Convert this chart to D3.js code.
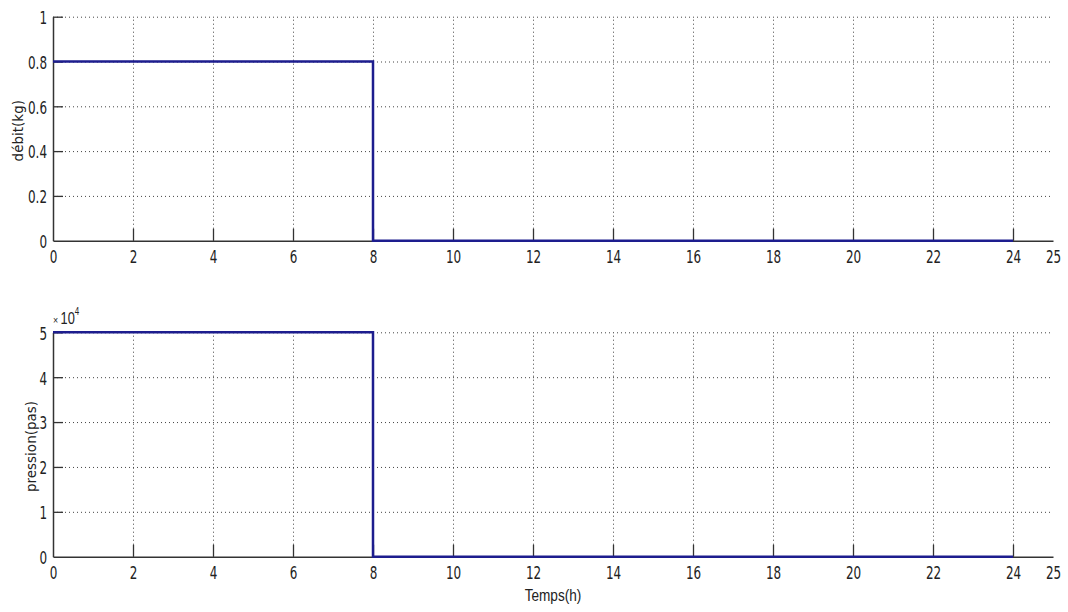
<!DOCTYPE html>
<html>
<head>
<meta charset="utf-8">
<script src="https://cdn.jsdelivr.net/npm/d3@7"></script>
<style>
  html, body { margin: 0; padding: 0; background: #fff; }
  svg { display: block; }
  .tick text { font-family: "Liberation Sans Narrow", "DejaVu Sans Condensed", sans-serif; font-size: 18px; fill: #222; }
  .axis path.domain { stroke: #333; stroke-width: 1.5; }
  .axis .tick line { stroke: #333; stroke-width: 1.3; }
  .grid .tick line { stroke: #444; stroke-width: 1; stroke-dasharray: 1 3; }
  .grid path.domain { display: none; }
  .ylab { font-family: "DejaVu Sans", sans-serif; font-size: 13.5px; fill: #222; }
  .xlab { font-family: "Liberation Sans Narrow", sans-serif; font-size: 16px; fill: #222; }
</style>
</head>
<body>
<svg id="chart" width="1068" height="612"></svg>
<script>
// Time axis (hours) and the two step signals
const hours     = [0, 8, 8, 24];
const debit     = [0.8, 0.8, 0, 0];   // kg
const pression  = [5, 5, 0, 0];       // ×10^4 pas
const xTicks    = [0, 2, 4, 6, 8, 10, 12, 14, 16, 18, 20, 22, 24, 25];
const xGrid     = [2, 4, 6, 8, 10, 12, 14, 16, 18, 20, 22, 24];
const debitTicks    = [0, 0.2, 0.4, 0.6, 0.8, 1];
const pressionTicks = [0, 1, 2, 3, 4, 5];

const svg = d3.select("#chart");
const left = 53, right = 1053;
const x = d3.scaleLinear().domain([0, 25]).range([left, right]);

const panels = [
  { top: 16.7, bottom: 240.7, domain: [0, 1], ticks: debitTicks, values: debit,
    label: "débit(kg)", labelX: 18 },
  { top: 332.3, bottom: 556.7, domain: [0, 5], ticks: pressionTicks, values: pression,
    label: "pression(pas)", labelX: 31 }
];

const sx = 0.74; // horizontal squeeze of the tick digits
const plain = d => String(d);

panels.forEach(p => {
  const y = d3.scaleLinear().domain(p.domain).range([p.bottom, p.top]);
  const h = p.bottom - p.top;
  const g = svg.append("g");

  // horizontal dotted grid
  g.append("g").attr("class", "grid")
    .attr("transform", `translate(${left},0)`)
    .call(d3.axisLeft(y).tickValues(p.ticks.filter(v => v > 0)).tickSize(-(right - left)).tickFormat(""));

  // vertical dotted grid
  g.append("g").attr("class", "grid")
    .attr("transform", `translate(0,${p.bottom})`)
    .call(d3.axisBottom(x).tickValues(xGrid).tickSize(-h).tickFormat(""));

  // x axis with inward ticks
  const xa = g.append("g").attr("class", "axis")
    .attr("transform", `translate(0,${p.bottom})`)
    .call(d3.axisBottom(x).tickValues(xTicks).tickFormat(plain).tickSizeInner(-12).tickSizeOuter(0).tickPadding(0));
  xa.selectAll(".tick").filter(d => d === 25 || d === 0).select("line").remove();
  xa.selectAll(".tick text")
    .attr("y", 22).attr("dy", 0)
    .attr("text-anchor", "middle")
    .attr("transform", `scale(${sx},1)`);

  // y axis with inward ticks
  const ya = g.append("g").attr("class", "axis")
    .attr("transform", `translate(${left},0)`)
    .call(d3.axisLeft(y).tickValues(p.ticks).tickFormat(plain).tickSizeInner(-10).tickSizeOuter(0).tickPadding(0));
  ya.selectAll(".tick").filter(d => d === p.domain[0]).select("line").remove();
  ya.selectAll(".tick text")
    .attr("x", -6 / sx).attr("dy", "0.38em")
    .attr("text-anchor", "end")
    .attr("transform", `scale(${sx},1)`);

  // step signal
  const line = d3.line().x((d, k) => x(hours[k])).y(d => y(d));
  g.append("path")
    .datum(p.values)
    .attr("d", line)
    .attr("fill", "none")
    .attr("stroke", "#1d1d8e")
    .attr("stroke-width", 2.5);

  // y label
  g.append("text").attr("class", "ylab")
    .attr("transform", `translate(${p.labelX},${(p.top + p.bottom) / 2 + 2}) rotate(-90)`)
    .attr("text-anchor", "middle")
    .attr("dy", "0.35em")
    .text(p.label);
});

// exponent of the pressure axis
const ex = svg.append("text")
  .attr("transform", `translate(53,324) scale(0.8,1)`)
  .attr("font-family", "Liberation Sans Narrow, sans-serif")
  .attr("font-size", 16).attr("fill", "#222");
ex.append("tspan").attr("font-size", 11).text("× ");
ex.append("tspan").text("10");
ex.append("tspan").attr("font-size", 10).attr("dy", -9).text("4");

// time label
svg.append("text").attr("class", "xlab")
  .attr("transform", `translate(${(left + right) / 2},601) scale(0.85,1)`)
  .attr("text-anchor", "middle")
  .text("Temps(h)");
</script>
</body>
</html>
